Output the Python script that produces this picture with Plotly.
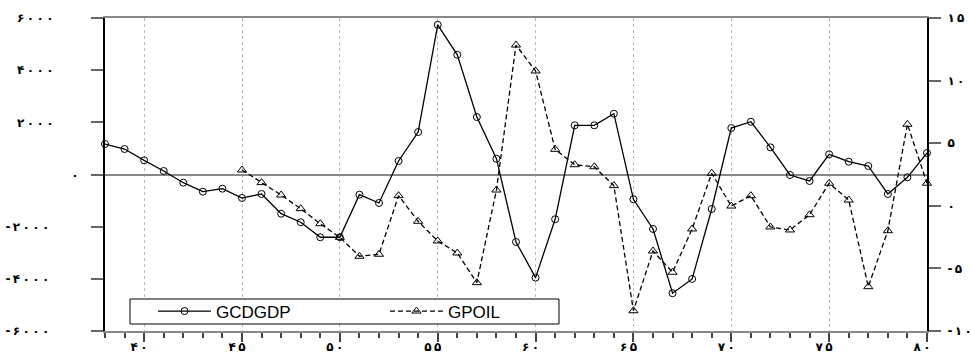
import plotly.graph_objects as go

years = list(range(38, 81))
gcdgdp = [1169, 977, 544, 134, -314, -659, -544, -900, -747, -1502, -1831, -2406,
          -2406, -774, -1092, 517, 1628, 5739, 4590, 2203, 605, -2586, -3954, -1716,
          1885, 1885, 2330, -950, -2088, -4552, -4004, -1322, 1782, 2023, 1042, -19,
          -249, 774, 490, 326, -747, -107, 824]
gpoil_years = list(range(45, 81))
gpoil = [2.86, 1.85, 0.86, -0.23, -1.43, -2.52, -4.03, -3.87, 0.81, -1.24, -2.81,
         -3.77, -6.14, 1.26, 12.84, 10.77, 4.51, 3.28, 3.12, 1.61, -8.38, -3.61,
         -5.31, -1.85, 2.6, -0.02, 0.81, -1.69, -1.93, -0.71, 1.8, 0.46, -6.46,
         -1.99, 6.51, 1.8]

x_tick_vals = [40, 45, 50, 55, 60, 65, 70, 75, 80]
x_tick_text = ["۴۰", "۴۵", "۵۰", "۵۵", "۶۰", "۶۵", "۷۰", "۷۵", "۸۰"]
y_tick_vals = [6000, 4000, 2000, 0, -2000, -4000, -6000]
y_tick_text = ["۶۰۰۰", "۴۰۰۰", "۲۰۰۰", "۰", "-۲۰۰۰", "-۴۰۰۰", "-۶۰۰۰"]
y2_tick_vals = [15, 10, 5, 0, -5, -10]
y2_tick_text = ["۱۵", "۱۰", "۵", "۰", "-۵", "-۱۰"]

THIN = "\u2009"
NB = "\u00a0"


def spaced(t):
    return THIN.join(list(t))


def pad_left_label(t):
    if t == "۰":
        return t
    return spaced(t) + NB * (7 if t.startswith("-") else 6)


fig = go.Figure()
fig.add_trace(go.Scatter(
    x=years, y=gcdgdp, name="GCDGDP", mode="lines+markers",
    line=dict(color="black", width=1.3),
    marker=dict(symbol="circle-open", size=7, color="black", line=dict(width=1)),
    cliponaxis=False, legend="legend",
))
fig.add_trace(go.Scatter(
    x=gpoil_years, y=gpoil, name="GPOIL", mode="lines+markers", yaxis="y2",
    line=dict(color="black", width=1.3, dash="5px,3px"),
    marker=dict(symbol="triangle-up-open", size=8, color="black", line=dict(width=1)),
    cliponaxis=False, legend="legend2",
))

tick_font = dict(family="DejaVu Sans", size=12, color="black", weight="bold")
leg_font = dict(family="Liberation Sans, Arial", size=17, color="black")

fig.update_layout(
    width=971, height=361,
    margin=dict(l=105, r=44, t=18, b=30),
    paper_bgcolor="white", plot_bgcolor="white",
    showlegend=True,
    legend=dict(
        x=0.0584, y=0.0623, xanchor="left", yanchor="middle",
        bgcolor="rgba(0,0,0,0)", borderwidth=0, font=leg_font, itemwidth=53,
    ),
    legend2=dict(
        x=0.3406, y=0.0623, xanchor="left", yanchor="middle",
        bgcolor="rgba(0,0,0,0)", borderwidth=0, font=leg_font, itemwidth=53,
    ),
    shapes=[dict(
        type="rect", xref="paper", yref="paper",
        x0=0.0304, x1=0.5523, y0=0.0224, y1=0.1022,
        line=dict(color="black", width=1), fillcolor="white", layer="above",
    )],
    xaxis=dict(
        range=[38, 80], tickvals=x_tick_vals, ticktext=[spaced(t) for t in x_tick_text],
        automargin=False,
        ticks="outside", ticklen=9, tickcolor="#444", tickwidth=1.5,
        showline=True, linecolor="#888", linewidth=2, mirror=True,
        showgrid=True, gridcolor="#bbb", griddash="dot", gridwidth=1,
        zeroline=False, tickfont=tick_font, ticklabelshift=-5, ticklabelstandoff=-5,
        minor=dict(dtick=1, tick0=38, ticks="outside", ticklen=5, tickcolor="#444", showgrid=False),
    ),
    yaxis=dict(
        range=[-6000, 6000], tickvals=y_tick_vals,
        ticktext=[pad_left_label(t) for t in y_tick_text], automargin=False,
        ticks="outside", ticklen=12, tickcolor="#666", tickwidth=1.5,
        showline=True, linecolor="black", linewidth=2,
        showgrid=False, zeroline=True, zerolinecolor="#888", zerolinewidth=2,
        tickfont=tick_font, ticklabelstandoff=10,
    ),
    yaxis2=dict(
        range=[-10, 15], tickvals=y2_tick_vals, ticktext=[spaced(t) for t in y2_tick_text],
        automargin=False, overlaying="y", side="right",
        ticks="outside", ticklen=12, tickcolor="#666", tickwidth=1.5,
        showline=True, linecolor="black", linewidth=2,
        showgrid=False, zeroline=False,
        tickfont=tick_font, ticklabelstandoff=4,
    ),
)

fig.write_html("out.html")
